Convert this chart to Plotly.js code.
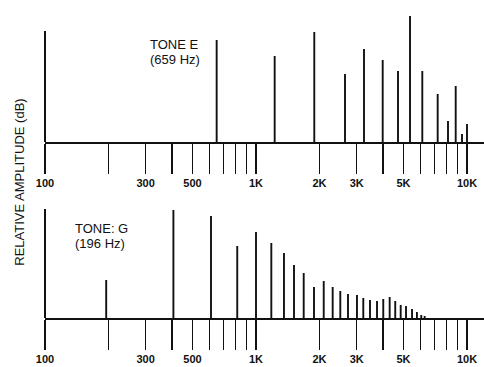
<!DOCTYPE html>
<html>
<head>
<meta charset="utf-8">
<script src="https://cdn.plot.ly/plotly-3.0.1.min.js"></script>
<style>html,body{margin:0;padding:0;background:#fff;}#chart{width:484px;height:367px;}</style>
</head>
<body>
<div id="chart"></div>
<script>
// Tone E (659 Hz) partials: frequency (Hz) and relative amplitude (arbitrary units)
const toneEFreq = [651, 1226, 1889, 2641, 3250, 3985, 4710, 5370, 6140, 7262, 8128, 8840, 9470, 10000];
const toneEAmp  = [102, 86, 110, 68, 93, 82, 71, 126, 71, 48, 21, 56, 8, 18];

// Tone G (196 Hz) partials
const toneGFreq = [195, 406, 612, 815, 1000, 1182, 1357, 1514, 1683, 1883, 2094, 2309, 2509, 2729, 3010, 3225, 3470, 3746, 4010, 4300, 4570, 4850, 5140, 5490, 5790, 6070, 6300];
const toneGAmp  = [38, 108, 102, 72, 86, 75, 65, 53, 45, 31, 37, 31, 27, 24, 23, 20, 18, 17, 19, 21, 17, 13, 12, 9, 6, 3, 2];

const tickVals = [100, 200, 300, 400, 500, 600, 700, 800, 900, 1000, 2000, 3000, 4000, 5000, 6000, 7000, 8000, 9000, 10000];
const tickText = ['100', '', '300', '', '500', '', '', '', '', '1K', '2K', '3K', '', '5K', '', '', '', '', '10K'];

const labelE = ['TONE E', '(659 Hz)'];
const labelG = ['TONE: G', '(196 Hz)'];
const yTitle = 'RELATIVE AMPLITUDE (dB)';

function stems(fs, amps) {
  const x = [], y = [];
  fs.forEach((f, i) => { x.push(f, f, null); y.push(0, amps[i], null); });
  return {x, y};
}

const sE = stems(toneEFreq, toneEAmp);
const sG = stems(toneGFreq, toneGAmp);
const lineStyle = {color: '#111', width: 1.9};

const traces = [
  {x: sE.x, y: sE.y, xaxis: 'x', yaxis: 'y', mode: 'lines', line: lineStyle, hoverinfo: 'skip', showlegend: false},
  {x: sG.x, y: sG.y, xaxis: 'x2', yaxis: 'y2', mode: 'lines', line: lineStyle, hoverinfo: 'skip', showlegend: false}
];

const FONT = 'Liberation Sans, Arial, sans-serif';
const xr = [2, 4.0806];
const xCommon = {
  type: 'log', range: xr, tickvals: tickVals, ticktext: tickText,
  ticks: 'outside', ticklen: 30, tickwidth: 1.2, tickcolor: '#111',
  showline: true, linecolor: '#111', linewidth: 2, showgrid: false, zeroline: false,
  tickfont: {family: FONT, size: 11, color: '#111', weight: 'bold'},
  fixedrange: true
};
const yCommon = {showline: false, showticklabels: false, showgrid: false, zeroline: false, ticks: '', fixedrange: true};

function txt(x, y, t) {
  return {xref: 'paper', yref: 'paper', x: x, y: y, xanchor: 'left', yanchor: 'middle', align: 'left',
          text: t, showarrow: false, font: {family: FONT, size: 13, color: '#111'}};
}

const layout = {
  width: 484, height: 367,
  margin: {l: 45, r: 0, t: 10, b: 49},
  paper_bgcolor: '#fff', plot_bgcolor: '#fff',
  showlegend: false,
  xaxis: Object.assign({}, xCommon, {anchor: 'y', domain: [0, 1]}),
  yaxis: Object.assign({}, yCommon, {domain: [0.5714, 1], range: [0, 132]}),
  xaxis2: Object.assign({}, xCommon, {anchor: 'y2', domain: [0, 1]}),
  yaxis2: Object.assign({}, yCommon, {domain: [0, 0.3831], range: [0, 118]}),
  shapes: [
    {type: 'line', xref: 'x domain', yref: 'y', x0: 0, x1: 0, y0: 0, y1: 111, line: {color: '#111', width: 2}},
    {type: 'line', xref: 'x2 domain', yref: 'y2', x0: 0, x1: 0, y0: 0, y1: 109, line: {color: '#111', width: 2}}
  ],
  annotations: [
    txt(0.2346, 0.8896, labelE[0]),
    txt(0.2346, 0.8409, labelE[1]),
    txt(0.0638, 0.2922, labelG[0]),
    txt(0.0638, 0.2435, labelG[1]),
    {xref: 'paper', yref: 'paper', x: -0.057, y: 0.4425, xanchor: 'center', yanchor: 'middle', textangle: -90,
     text: yTitle, showarrow: false, font: {family: FONT, size: 13, color: '#111'}}
  ]
};

Plotly.newPlot('chart', traces, layout, {displayModeBar: false, staticPlot: true});
</script>
</body>
</html>
